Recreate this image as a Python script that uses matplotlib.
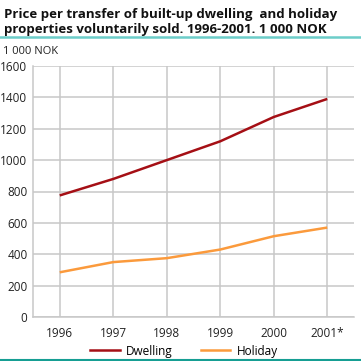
import matplotlib
matplotlib.use("Agg")
import matplotlib.pyplot as plt
from matplotlib.lines import Line2D

years = [1996, 1997, 1998, 1999, 2000, 2001]
year_labels = ["1996", "1997", "1998", "1999", "2000", "2001*"]
dwelling = [775, 880, 1000, 1120, 1275, 1390]
holiday = [285, 350, 375, 430, 515, 570]
yticks = [0, 200, 400, 600, 800, 1000, 1200, 1400, 1600]

plt.rcParams['font.family'] = ['Open Sans', 'DejaVu Sans']

W = H = 361
fig = plt.figure(figsize=(W/100, H/100), dpi=100)
ax = fig.add_axes([33/W, 1-317/H, (354-33)/W, (317-66)/H])

grid_c = "#c8c8c8"
c_dw = "#a50f15"
c_ho = "#fb9a3c"

ax.plot(years, dwelling, color=c_dw, lw=1.8, solid_capstyle='butt', zorder=3)
ax.plot(years, holiday, color=c_ho, lw=1.8, solid_capstyle='butt', zorder=3)

ax.set_xlim(1995.5, 2001.5)
ax.set_ylim(0, 1600)
ax.set_xticks(years)
ax.set_xticklabels(year_labels)
ax.set_yticks(yticks)
ax.grid(True, color=grid_c, lw=1.1)
ax.set_axisbelow(True)
for s in ['top', 'right']:
    ax.spines[s].set_visible(False)
for s in ['left', 'bottom']:
    ax.spines[s].set_color(grid_c)
    ax.spines[s].set_linewidth(1.1)
ax.tick_params(length=0, labelsize=8.5, colors="#222222", pad=4)
ax.tick_params(axis='x', pad=7)

fig.text(4/W, 1-8/H, "Price per transfer of built-up dwelling  and holiday\nproperties voluntarily sold. 1996-2001. 1 000 NOK",
         fontsize=9.5, fontweight='bold', va='top', ha='left', linespacing=1.15, color="#111111")
fig.add_artist(Line2D([0, 1], [1-37/H, 1-37/H], color="#6ccdc9", lw=1.8, transform=fig.transFigure))
fig.text(3/W, 1-52/H, "1 000 NOK", fontsize=8, va='center', ha='left', color="#222222")

leg = fig.legend([Line2D([], [], color=c_dw, lw=1.8), Line2D([], [], color=c_ho, lw=1.8)],
                 ["Dwelling", "Holiday"], loc='center', bbox_to_anchor=(184/W, 1-351/H),
                 ncol=2, frameon=False, fontsize=8.5, handlelength=2.5, columnspacing=2.4,
                 handletextpad=0.5, borderpad=0.2)
fig.add_artist(Line2D([0, 1], [1-360/H, 1-360/H], color="#169e93", lw=1.5, transform=fig.transFigure))

fig.savefig("out.png", dpi=100)
